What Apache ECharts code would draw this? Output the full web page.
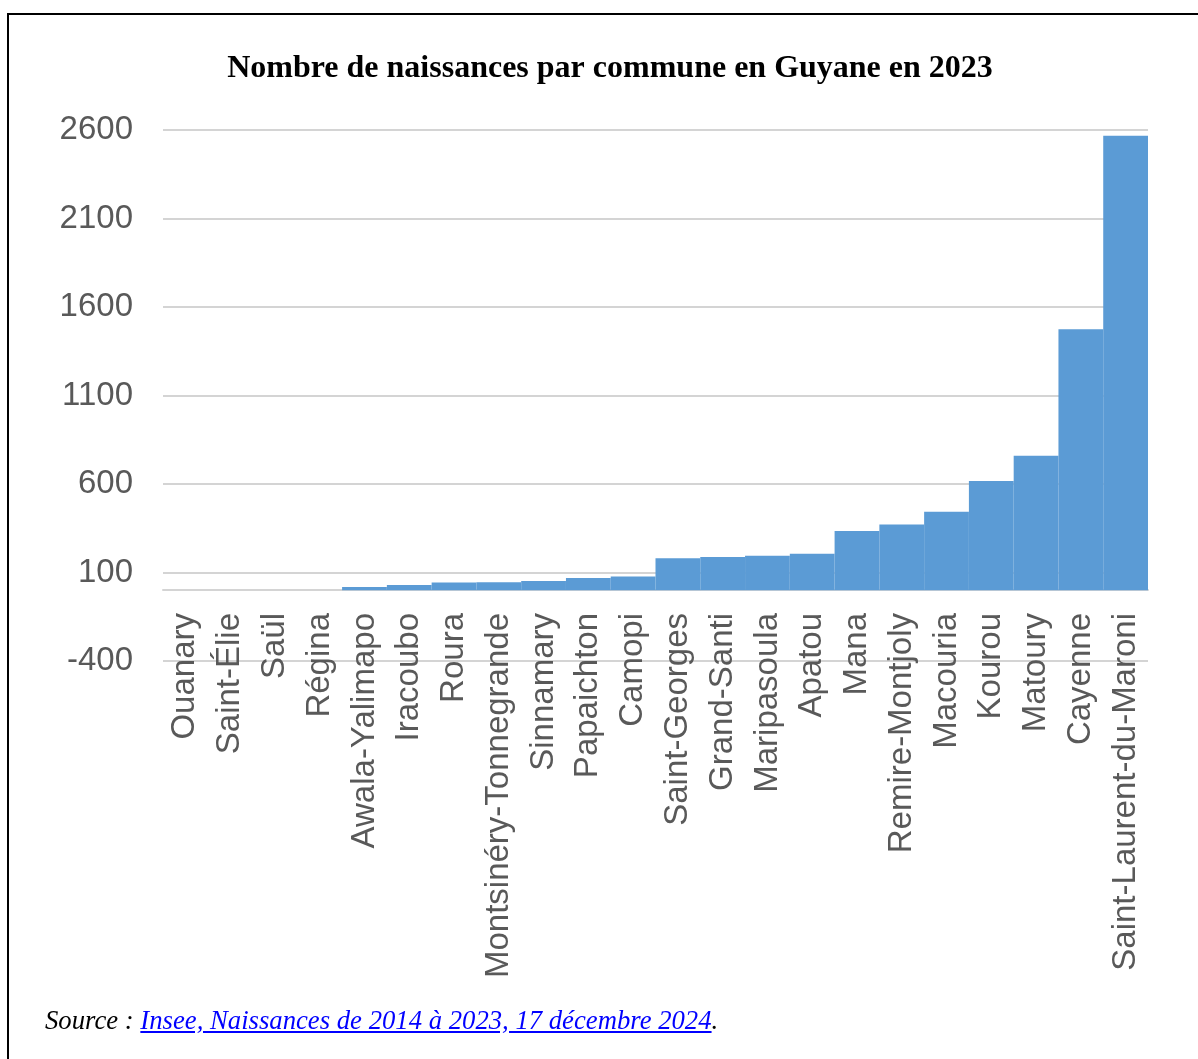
<!DOCTYPE html>
<html>
<head>
<meta charset="utf-8">
<script src="https://cdn.jsdelivr.net/npm/echarts@6/dist/echarts.min.js"></script>
<style>
  html, body { margin: 0; padding: 0; background: #fff; overflow: hidden; }
  #wrap { position: relative; width: 1198px; height: 1059px; overflow: hidden; }
  #frame { position: absolute; left: 7px; top: 13px; width: 1300px; height: 1200px; border: 2px solid #000; box-sizing: border-box; }
  #chart { position: absolute; left: 0; top: 0; width: 1198px; height: 1059px; }
  #source { position: absolute; left: 45px; top: 1007px; font-family: "Liberation Serif", "Times New Roman", serif; font-style: italic; font-size: 26.7px; line-height: 27px; color: #000; white-space: nowrap; }
  #source a { color: #0000ff; text-decoration: underline; }
</style>
</head>
<body>
<div id="wrap">
  <div id="frame"></div>
  <div id="chart"></div>
  <div id="source">Source : <a href="#">Insee, Naissances de 2014 à 2023, 17 décembre 2024</a>.</div>
</div>
<script>
const titleText = 'Nombre de naissances par commune en Guyane en 2023';
const communes = ['Ouanary', 'Saint-Élie', 'Saül', 'Régina', 'Awala-Yalimapo', 'Iracoubo', 'Roura',
  'Montsinéry-Tonnegrande', 'Sinnamary', 'Papaichton', 'Camopi', 'Saint-Georges', 'Grand-Santi',
  'Maripasoula', 'Apatou', 'Mana', 'Remire-Montjoly', 'Macouria', 'Kourou', 'Matoury', 'Cayenne',
  'Saint-Laurent-du-Maroni'];
const naissances = [0, 0, 0, 0, 18, 30, 44, 45, 52, 69, 77, 180, 187, 195, 206, 334, 371, 443, 617, 759, 1474, 2567];
const yMin = -400, yMax = 2600, yInterval = 500;

const chart = echarts.init(document.getElementById('chart'), null, { renderer: 'canvas' });
chart.setOption({
  animation: false,
  backgroundColor: 'transparent',
  graphic: [{
    type: 'text',
    x: 610, y: 69,
    style: {
      text: titleText,
      font: 'bold 32px "Liberation Serif", "Times New Roman", serif',
      fill: '#000',
      textAlign: 'center',
      textVerticalAlign: 'middle'
    }
  }],
  grid: { left: 163, right: 50, top: 130, bottom: 398, containLabel: false },
  xAxis: {
    type: 'category',
    data: communes,
    axisLine: { show: true, onZero: true, lineStyle: { color: '#d4d4d4', width: 2 } },
    axisTick: { show: false },
    axisLabel: {
      rotate: 90,
      interval: 0,
      margin: -48,
      color: '#595959',
      fontFamily: '"Liberation Sans", Arial, sans-serif',
      fontSize: 33
    }
  },
  yAxis: {
    type: 'value',
    min: yMin, max: yMax, interval: yInterval,
    axisLine: { show: false },
    axisTick: { show: false },
    splitLine: { show: true, lineStyle: { color: '#d4d4d4', width: 2 } },
    axisLabel: {
      margin: 30,
      color: '#595959',
      fontFamily: '"Liberation Sans", Arial, sans-serif',
      fontSize: 33,
      formatter: function (v) { return String(v); }
    }
  },
  series: [{
    type: 'bar',
    data: naissances,
    barCategoryGap: '0%',
    itemStyle: { color: '#5B9BD5' }
  }]
});
</script>
</body>
</html>
